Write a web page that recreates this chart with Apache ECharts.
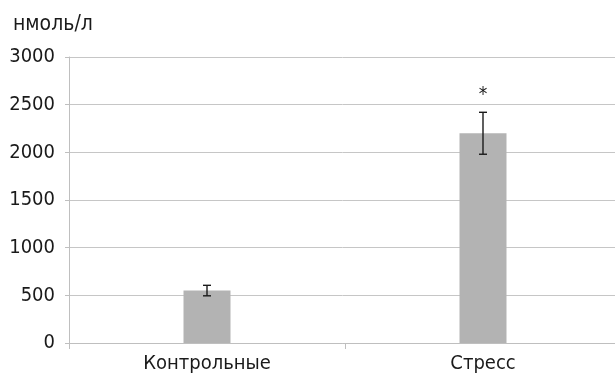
<!DOCTYPE html>
<html>
<head>
<meta charset="utf-8">
<script src="https://cdn.jsdelivr.net/npm/echarts@6/dist/echarts.min.js"></script>
<style>
  html, body { margin: 0; padding: 0; background: #fff; }
  #chart { width: 615px; height: 374px; }
</style>
</head>
<body>
<div id="chart"></div>
<script>
// Groups and measured concentrations
const categories = ['Контрольные', 'Стресс'];
const means = [550, 2200];
const errors = [55, 220];
const marks = ['', '*'];
const yTicks = [0, 500, 1000, 1500, 2000, 2500, 3000];

const FONT = '"Liberation Sans Narrow", "DejaVu Sans Condensed", "Roboto", sans-serif';

const chart = echarts.init(document.getElementById('chart'));

const errorData = means.map((m, i) => [i, m - errors[i], m + errors[i], marks[i]]);

chart.setOption({
  animation: false,
  title: {
    text: 'нмоль/л',
    left: 8,
    top: 9,
    textStyle: { fontFamily: FONT, fontSize: 21, fontWeight: 'normal', color: '#1a1a1a' }
  },
  grid: {
    left: 69, top: 57, width: 552, bottom: 31,
    containLabel: false, outerBoundsMode: 'none'
  },
  xAxis: {
    type: 'category',
    data: categories,
    axisLine: { lineStyle: { color: '#bfbfbf', width: 1 } },
    axisTick: { show: true, alignWithLabel: false, length: 6, lineStyle: { color: '#bfbfbf' } },
    axisLabel: { fontFamily: FONT, fontSize: 20, color: '#1a1a1a', margin: 11 }
  },
  yAxis: {
    type: 'value',
    min: yTicks[0],
    max: yTicks[yTicks.length - 1],
    interval: yTicks[1] - yTicks[0],
    axisLine: { show: true, lineStyle: { color: '#bfbfbf', width: 1 } },
    axisTick: { show: true, length: 4, lineStyle: { color: '#bfbfbf' } },
    splitLine: { lineStyle: { color: '#c6c6c6', width: 1 } },
    axisLabel: {
      fontFamily: FONT, fontSize: 20, color: '#1a1a1a', margin: 14,
      formatter: function (v) { return String(v); }
    }
  },
  series: [
    {
      type: 'bar',
      data: means,
      barWidth: 47,
      itemStyle: { color: '#b3b3b3' }
    },
    {
      type: 'custom',
      data: errorData,
      z: 10,
      renderItem: function (params, api) {
        const x = api.value(0);
        const lo = api.coord([x, api.value(1)]);
        const hi = api.coord([x, api.value(2)]);
        const cap = 4;
        const style = { stroke: '#1a1a1a', lineWidth: 1.4 };
        const children = [
          { type: 'line', shape: { x1: hi[0], y1: hi[1], x2: lo[0], y2: lo[1] }, style: style },
          { type: 'line', shape: { x1: hi[0] - cap, y1: hi[1], x2: hi[0] + cap, y2: hi[1] }, style: style },
          { type: 'line', shape: { x1: lo[0] - cap, y1: lo[1], x2: lo[0] + cap, y2: lo[1] }, style: style }
        ];
        const mark = api.value(3);
        if (mark) {
          children.push({
            type: 'text',
            style: {
              text: String(mark), x: hi[0], y: hi[1] - 17,
              align: 'center', verticalAlign: 'middle',
              fontFamily: FONT, fontSize: 19, fill: '#1a1a1a'
            }
          });
        }
        return { type: 'group', children: children };
      }
    }
  ]
});
</script>
</body>
</html>
